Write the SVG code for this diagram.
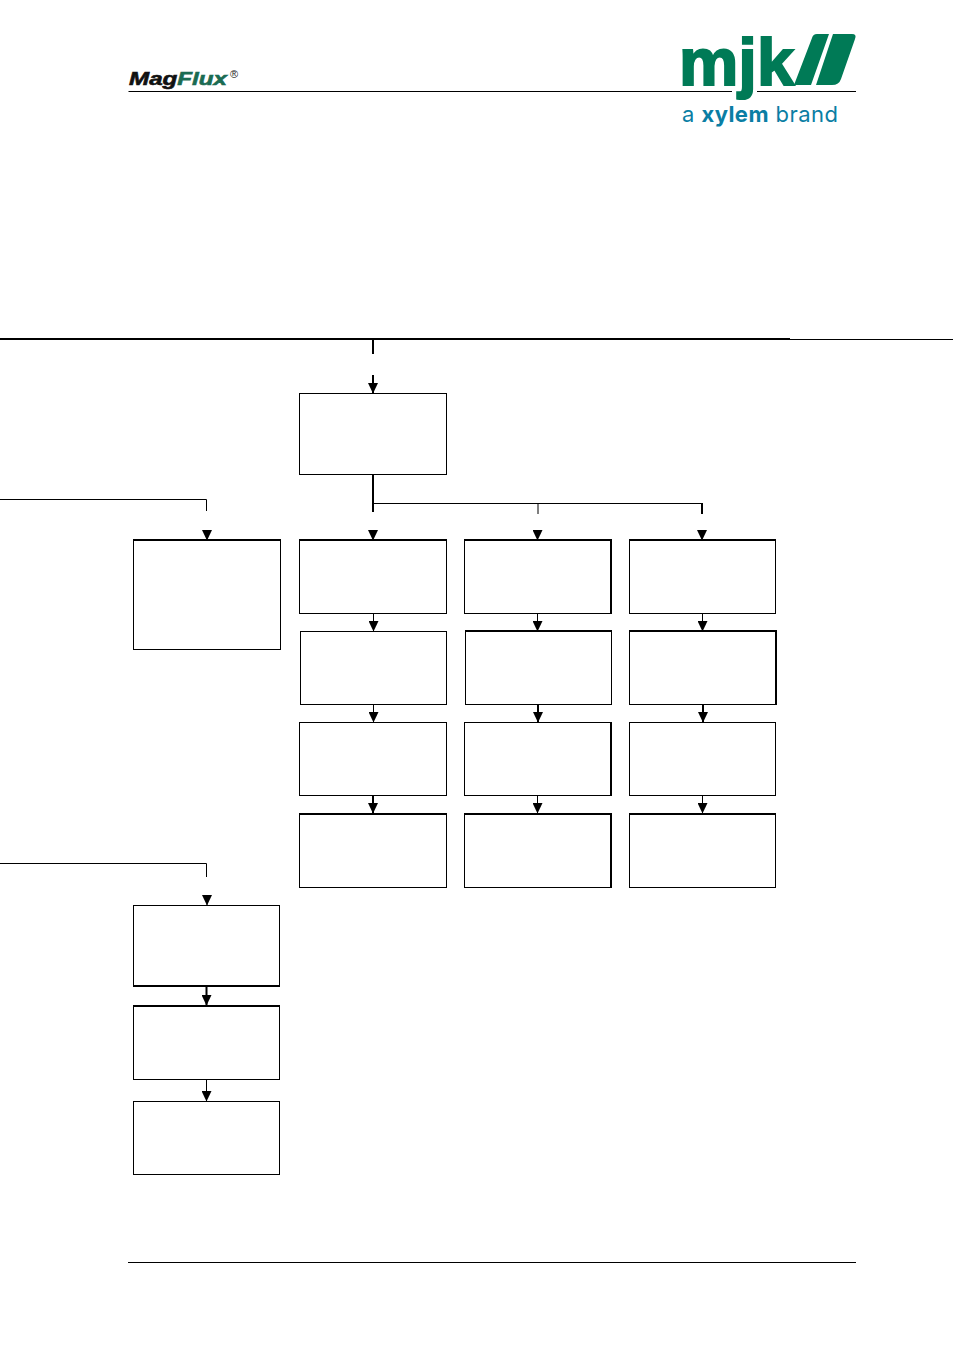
<svg xmlns="http://www.w3.org/2000/svg" width="953" height="1352" viewBox="0 0 953 1352">
<defs>
<marker id="ah" markerUnits="userSpaceOnUse" markerWidth="10" markerHeight="11" refX="5" refY="10" orient="0" viewBox="0 0 10 11"><path d="M0 0H10L5 10.500Z" fill="#000"/></marker>
</defs>
<style>
.b{fill:#fff;stroke:#000;stroke-width:1}
.e{fill:none;stroke:#000;stroke-width:2}
.c{fill:none;stroke:#000;stroke-width:1}
.k{fill:none;stroke:#000;stroke-width:2}
.m{fill:#007a56}
</style>
<rect width="953" height="1352" fill="#fff"/>
<g id="header">
<text x="129" y="85" font-family="Liberation Sans, Arial, sans-serif" font-size="19" font-weight="700" font-style="italic" textLength="98" lengthAdjust="spacingAndGlyphs" stroke-width="0.600"><tspan fill="#111" stroke="#111">Mag</tspan><tspan fill="#1a6b52" stroke="#1a6b52">Flux</tspan></text>
<text x="230" y="78" font-family="Liberation Sans, Arial, sans-serif" font-size="11" fill="#222">®</text>
<path class="c" d="M128.500 91.500H732M757 91.500H856"/>
<text x="679" y="85" class="m" stroke="#007a56" stroke-width="2" font-family="Liberation Sans, Arial, sans-serif" font-size="67" font-weight="700" textLength="115" lengthAdjust="spacingAndGlyphs">mjk</text>
<path class="m" d="M794 85 812 38Q813 34 817 34H829L811 85ZM816 85 833 34H852Q857 34 855 39L841 79Q839 85 832 85Z"/>
<text x="682" y="122" font-family="Inter, Liberation Sans, sans-serif" font-size="22" fill="#0a7ea4" textLength="156">a <tspan font-weight="700">xylem</tspan> brand</text>
</g>
<path d="M0 339H790" stroke="#000" stroke-width="2" fill="none"/>
<path d="M790 339.500H953" stroke="#000" stroke-width="1" fill="none"/>
<path d="M128 1262.500H856" stroke="#000" stroke-width="1" fill="none"/>
<g id="connectors">
<path class="k" d="M373 339V354"/>
<path class="k" d="M373 375V393" marker-end="url(#ah)"/>
<path class="k" d="M373 474V512"/>
<path class="c" d="M373 503.500H702"/>
<path class="c" d="M538 503.500V514"/>
<path class="k" d="M702 503V514"/>
<path class="c" d="M373 530V540" marker-end="url(#ah)"/>
<path class="c" d="M537.500 530V540" marker-end="url(#ah)"/>
<path class="c" d="M702 530V540" marker-end="url(#ah)"/>
<path class="c" d="M0 499.500H206.500V511"/>
<path class="c" d="M207 530V540" marker-end="url(#ah)"/>
<path class="c" d="M0 863.500H206.500V877"/>
<path class="c" d="M207 895V905" marker-end="url(#ah)"/>
<path class="c" d="M373.500 613V631" marker-end="url(#ah)"/>
<path class="c" d="M373.500 704V722" marker-end="url(#ah)"/>
<path class="k" d="M373 795V813" marker-end="url(#ah)"/>
<path class="c" d="M537.500 613V631" marker-end="url(#ah)"/>
<path class="k" d="M538 704V722" marker-end="url(#ah)"/>
<path class="c" d="M537.500 795V813" marker-end="url(#ah)"/>
<path class="c" d="M702.500 613V631" marker-end="url(#ah)"/>
<path class="k" d="M703 704V722" marker-end="url(#ah)"/>
<path class="c" d="M702.500 795V813" marker-end="url(#ah)"/>
<path class="k" d="M206.500 986V1005" marker-end="url(#ah)"/>
<path class="c" d="M206.500 1079V1101" marker-end="url(#ah)"/>
</g>
<g id="n1"><rect class="b" x="299.500" y="393.500" width="147" height="81"/></g>
<g id="n2"><rect class="b" x="133.500" y="540.500" width="147" height="109"/><path class="e" d="M133 540H281"/></g>
<g id="n3"><rect class="b" x="299.500" y="540.500" width="147" height="73"/><path class="e" d="M299 540H447"/></g>
<g id="n4"><rect class="b" x="464.500" y="540.500" width="146.500" height="73"/><path class="e" d="M464 540H612M611 540V614"/></g>
<g id="n5"><rect class="b" x="629.500" y="540.500" width="146" height="73"/><path class="e" d="M629 540H776"/></g>
<g id="n6"><rect class="b" x="300.500" y="631.500" width="146" height="73"/></g>
<g id="n7"><rect class="b" x="465.500" y="631.500" width="146" height="73"/><path class="e" d="M465 631H612"/></g>
<g id="n8"><rect class="b" x="629.500" y="631.500" width="146.500" height="73"/><path class="e" d="M629 631H777M776 631V705"/></g>
<g id="n9"><rect class="b" x="299.500" y="722.500" width="147" height="73"/></g>
<g id="n10"><rect class="b" x="464.500" y="722.500" width="146.500" height="73"/><path class="e" d="M611 722V796"/></g>
<g id="n11"><rect class="b" x="629.500" y="722.500" width="146" height="73"/></g>
<g id="n12"><rect class="b" x="299.500" y="814.500" width="147" height="73"/><path class="e" d="M299 814H447"/></g>
<g id="n13"><rect class="b" x="464.500" y="814.500" width="146.500" height="73"/><path class="e" d="M464 814H612M611 814V888"/></g>
<g id="n14"><rect class="b" x="629.500" y="814.500" width="146" height="73"/><path class="e" d="M629 814H776"/></g>
<g id="n15"><rect class="b" x="133.500" y="905.500" width="146" height="80"/><path class="e" d="M133 986H280"/></g>
<g id="n16"><rect class="b" x="133.500" y="1006.500" width="146" height="73"/><path class="e" d="M133 1006H280"/></g>
<g id="n17"><rect class="b" x="133.500" y="1101.500" width="146" height="73"/></g>
</svg>
